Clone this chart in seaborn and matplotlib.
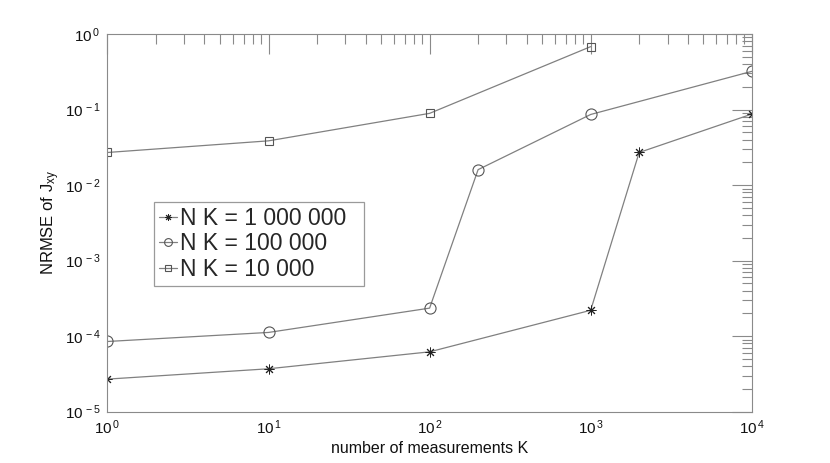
import numpy as np
import pandas as pd
import matplotlib
matplotlib.use("Agg")
import matplotlib.pyplot as plt
import seaborn as sns
from matplotlib.ticker import LogLocator, NullFormatter, FixedFormatter

# Values
k_1m = [1, 10, 100, 1000, 2000, 10000]
nrmse_1m = [2.7e-5, 3.7e-5, 6.2e-5, 2.2e-4, 2.7e-2, 8.7e-2]

k_100k = [1, 10, 100, 200, 1000, 10000]
nrmse_100k = [8.5e-5, 1.12e-4, 2.35e-4, 1.6e-2, 8.6e-2, 0.32]

k_10k = [1, 10, 100, 1000]
nrmse_10k = [2.7e-2, 3.85e-2, 8.9e-2, 0.68]

series_labels = ["N K = 1 000 000", "N K = 100 000", "N K = 10 000"]
x_tick_vals = [1, 10, 100, 1000, 10000]
x_tick_labels = [r"$\mathdefault{10^{\,0}}$", r"$\mathdefault{10^{\,1}}$", r"$\mathdefault{10^{\,2}}$",
                 r"$\mathdefault{10^{\,3}}$", r"$\mathdefault{10^{\,4}}$"]
y_tick_vals = [1e-5, 1e-4, 1e-3, 1e-2, 1e-1, 1]
y_tick_labels = [r"$\mathdefault{10^{\,-5}}$", r"$\mathdefault{10^{\,-4}}$", r"$\mathdefault{10^{\,-3}}$",
                 r"$\mathdefault{10^{\,-2}}$", r"$\mathdefault{10^{\,-1}}$", r"$\mathdefault{10^{\,0}}$"]

sns.set_style("white")
plt.rcParams["font.family"] = ["Liberation Sans", "DejaVu Sans"]
plt.rcParams["mathtext.fontset"] = "custom"
plt.rcParams["mathtext.rm"] = "Liberation Sans"
plt.rcParams["mathtext.it"] = "Liberation Sans"

fig = plt.figure(figsize=(8.3, 4.63), dpi=100)
ax = fig.add_axes([0.1295, 0.1108, 0.9057 - 0.1295, 0.9266 - 0.1108])

line_col = "#808080"
series = [
    (k_1m, nrmse_1m, series_labels[0], (8, 2, 0), 7, "#222222", 0.7),
    (k_100k, nrmse_100k, series_labels[1], "o", 8, "#555555", 0.8),
    (k_10k, nrmse_10k, series_labels[2], "s", 6, "#555555", 0.8),
]
for xs, ys, lab, mk, ms, mec, mew in series:
    df = pd.DataFrame({"K": xs, "nrmse": ys})
    sns.lineplot(data=df, x="K", y="nrmse", ax=ax, color=line_col, lw=0.9,
                 marker=mk, markersize=ms, mfc="none", mec=mec, mew=mew,
                 label=lab, legend=False)

ax.set_xscale("log")
ax.set_yscale("log")
ax.set_xlim(1, 1e4)
ax.set_ylim(1e-5, 1)

ax.set_xticks(x_tick_vals)
ax.xaxis.set_major_formatter(FixedFormatter(x_tick_labels))
ax.set_yticks(y_tick_vals)
ax.yaxis.set_major_formatter(FixedFormatter(y_tick_labels))
ax.xaxis.set_minor_locator(LogLocator(base=10, subs=np.arange(2, 10), numticks=20))
ax.yaxis.set_minor_locator(LogLocator(base=10, subs=np.arange(2, 10), numticks=20))
ax.xaxis.set_minor_formatter(NullFormatter())
ax.yaxis.set_minor_formatter(NullFormatter())

ax.tick_params(which="both", direction="in", top=True, right=True,
               color="#8a8a8a", width=0.8, labelsize=11, labelcolor="#111111")
ax.tick_params(which="major", length=14.5, pad=5)
ax.tick_params(which="minor", length=7.5)
for sp in ax.spines.values():
    sp.set_color("#8a8a8a")
    sp.set_linewidth(0.8)

ax.set_xlabel("number of measurements K", fontsize=11.5, color="#111111", labelpad=3)
ax.set_ylabel(r"NRMSE of J$_{\mathdefault{xy}}$", fontsize=12, color="#111111", labelpad=2)

handles, labels = ax.get_legend_handles_labels()
leg = ax.legend(handles, [lab + "  " for lab in labels],
                loc="upper left", bbox_to_anchor=(0.072, 0.556), borderaxespad=0,
                fontsize=16.5, frameon=True, fancybox=False, framealpha=1,
                edgecolor="#9a9a9a", handlelength=0.8, handletextpad=0.1,
                borderpad=0.22, labelspacing=0.12, markerscale=0.7)
leg.get_frame().set_linewidth(0.9)

fig.savefig("out.png", dpi=100)
